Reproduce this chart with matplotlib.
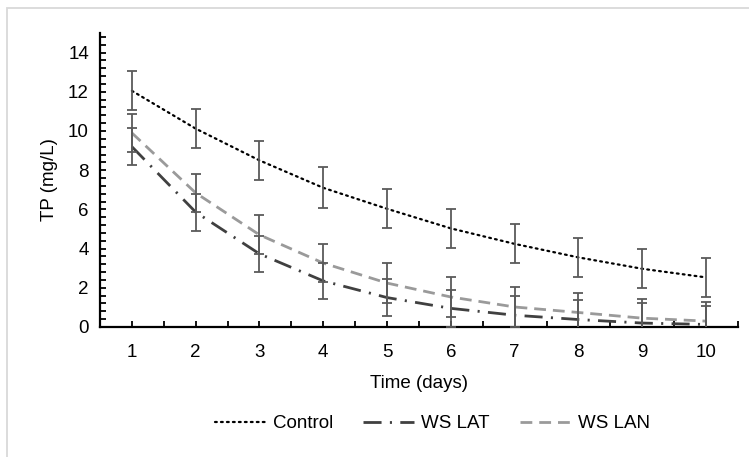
'''TP concentration over time for Control, WS LAT and WS LAN'''

import matplotlib
matplotlib.use('Agg')
import matplotlib.pyplot as plt
from matplotlib.patches import Rectangle
from matplotlib.ticker import MultipleLocator

# values
days = [1, 2, 3, 4, 5, 6, 7, 8, 9, 10]
control = [12.05, 10.12, 8.5, 7.1, 6.03, 5.03, 4.24, 3.55, 2.97, 2.53]
ws_lat = [9.2, 5.86, 3.73, 2.35, 1.5, 0.95, 0.6, 0.38, 0.2, 0.13]
ws_lan = [9.9, 6.84, 4.7, 3.26, 2.24, 1.53, 1.02, 0.74, 0.45, 0.3]
err_control = [1.0, 1.0, 1.0, 1.05, 1.0, 1.0, 1.0, 1.0, 1.0, 1.0]
err_lat = [0.93, 0.95, 0.92, 0.9, 0.93, 0.95, 0.98, 0.98, 1.0, 0.95]
err_lan = [0.98, 0.98, 1.0, 0.98, 1.0, 1.0, 1.0, 1.0, 1.0, 1.0]

plt.rcParams['font.family'] = ['Liberation Sans', 'DejaVu Sans']
plt.rcParams['lines.scale_dashes'] = False
fs = 13.5

fig = plt.figure(figsize=(7.49, 4.57), dpi=100)
ax = fig.add_axes([0.1335, 0.2845, 0.8518, 0.6433])

ax.plot(days, control, color='black', lw=1.6, linestyle=(0, (1.3, 3.0)),
        dash_capstyle='round', label='Control', zorder=3)
ax.plot(days, ws_lat, color='#404040', lw=2.0, linestyle=(0, (13, 6, 1.5, 6)),
        label='WS LAT', zorder=3)
ax.plot(days, ws_lan, color='#9a9a9a', lw=2.0, linestyle=(0, (8.5, 5)),
        label='WS LAN', zorder=3)

# error bars drawn over the lines
for vals, errs in [(control, err_control), (ws_lat, err_lat), (ws_lan, err_lan)]:
    ax.errorbar(days, vals, yerr=errs, fmt='none', ecolor='#5a5a5a',
                elinewidth=1.3, capsize=3.3, capthick=1.3, zorder=4)

ax.set_xlim(0.5, 10.5)
ax.set_ylim(0, 15)
ax.set_xticks(days)
ax.xaxis.set_minor_locator(MultipleLocator(0.5))
ax.yaxis.set_minor_locator(MultipleLocator(0.4))
ax.set_yticks(range(0, 15, 2))
ax.tick_params(axis='both', which='both', direction='in', width=1.3, color='black')
ax.tick_params(axis='x', which='major', length=4, pad=12, labelsize=fs)
ax.tick_params(axis='x', which='minor', length=4)
ax.tick_params(axis='y', which='major', length=4, pad=8, labelsize=fs)
ax.tick_params(axis='y', which='minor', length=4)

for side in ['top', 'right']:
    ax.spines[side].set_visible(False)
for side in ['left', 'bottom']:
    ax.spines[side].set_linewidth(1.6)

ax.set_xlabel('Time (days)', fontsize=fs, labelpad=10)
ax.set_ylabel('TP (mg/L)', fontsize=fs, labelpad=7)

fig.legend(loc='center', bbox_to_anchor=(0.577, 0.073), ncol=3, frameon=False,
           fontsize=fs, handlelength=2.7, handletextpad=0.4, columnspacing=1.6)

# light grey chart-area border
fig.patches.append(Rectangle((7 / 749, -0.1), 1.2, 1.1 - 8 / 457,
                             transform=fig.transFigure, fill=False,
                             edgecolor='#d9d9d9', lw=1.3))

fig.savefig('out.png', dpi=100)
